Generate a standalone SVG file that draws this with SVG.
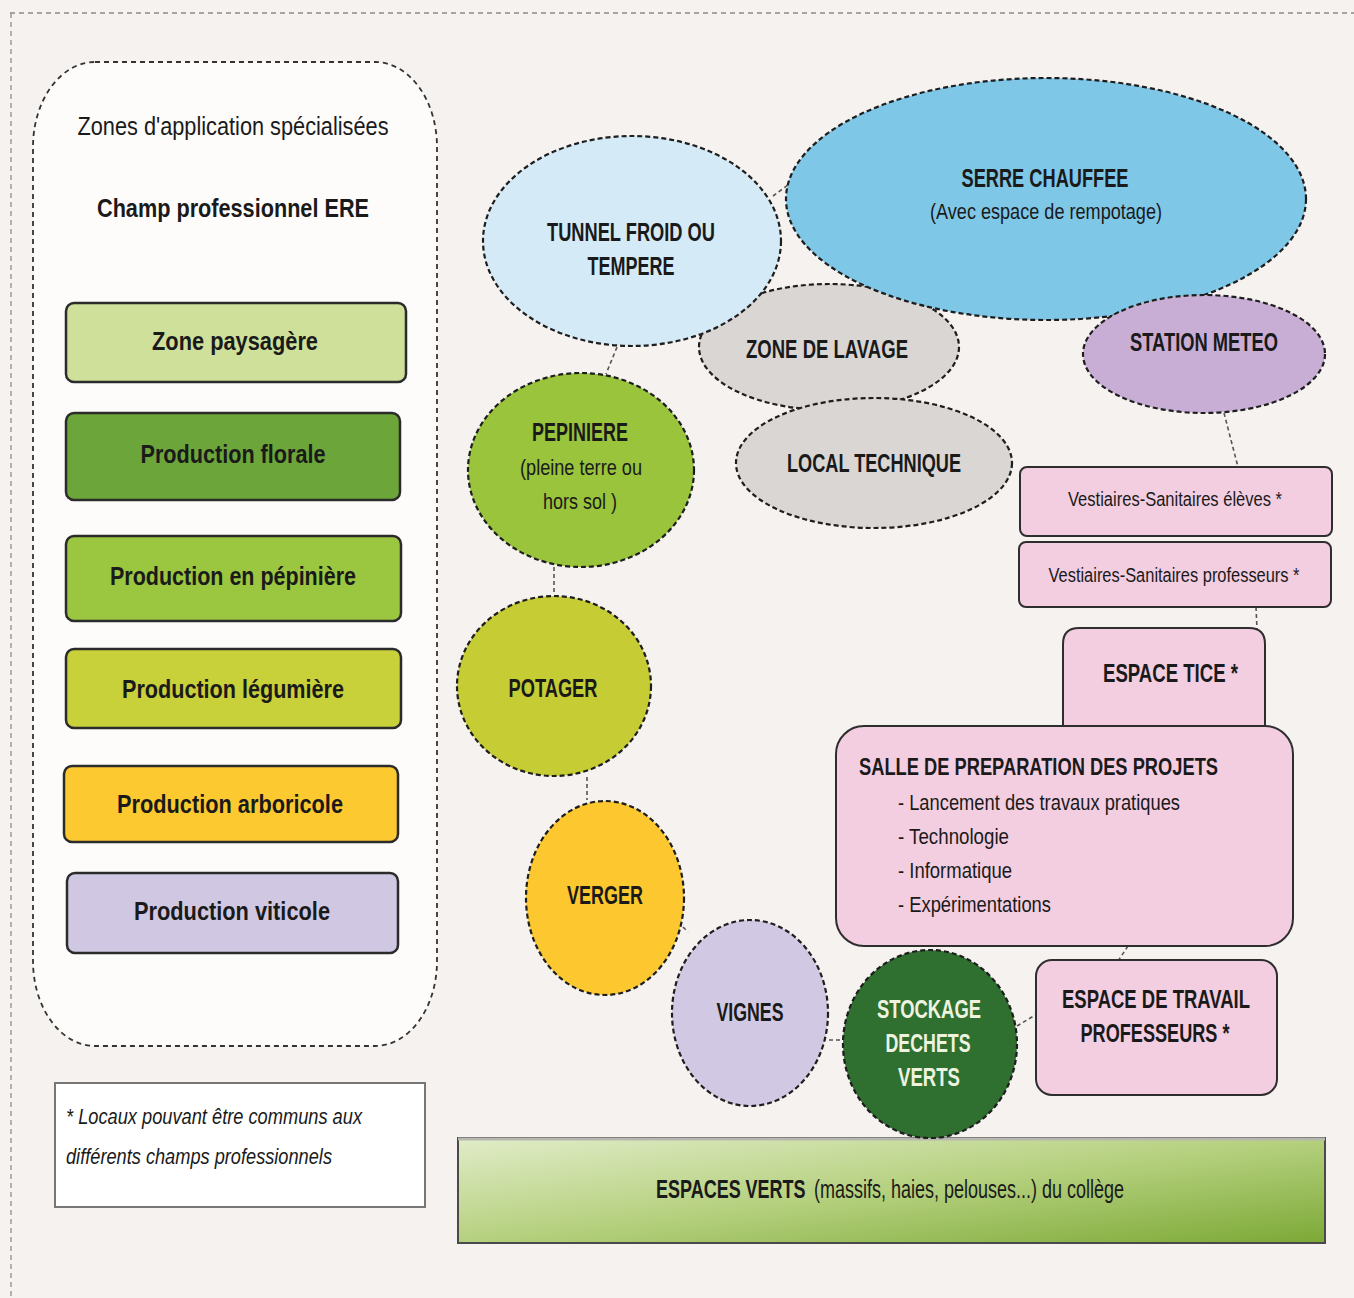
<svg xmlns="http://www.w3.org/2000/svg" width="1354" height="1298" viewBox="0 0 1354 1298">
  <defs>
    <linearGradient id="gradVerts" x1="0" y1="0" x2="1" y2="1">
      <stop offset="0" stop-color="#e1ecc8"/>
      <stop offset="0.5" stop-color="#b5d07e"/>
      <stop offset="1" stop-color="#7ca936"/>
    </linearGradient>
    <style>
      .t { font-family: "Liberation Sans Narrow", "Liberation Sans", Arial, sans-serif; fill: #1a1a1a; }
      .w { font-family: "Liberation Sans", Arial, sans-serif; fill: #1a1a1a; font-size: 25px; }
      .b { font-weight: bold; }
      .c { text-anchor: middle; }
      .big { font-size: 25px; }
      .mid { font-size: 22px; }
      .sm { font-size: 20px; }
      .light { fill: #eef3e0; }
      .leg { stroke: #2b2b2b; stroke-width: 2.5; }
      .zone { stroke: #1e1e1e; stroke-width: 2.2; stroke-dasharray: 5 3; }
      .room { fill: #f3cee1; stroke: #2e2e2e; stroke-width: 2; }
      .link { stroke: #555; stroke-width: 1.6; stroke-dasharray: 4 3; fill: none; }
    </style>
  </defs>

  <!-- page background and outer frame -->
  <rect x="0" y="0" width="1354" height="1298" fill="#f5f2ef"/>
  <line x1="10" y1="13" x2="1354" y2="13" stroke="#8a8a8a" stroke-width="1.5" stroke-dasharray="5 4"/>
  <line x1="11" y1="13" x2="11" y2="1298" stroke="#9a9a9a" stroke-width="1.5" stroke-dasharray="5 4"/>

  <!-- legend panel -->
  <g id="legende">
    <rect x="33" y="62" width="404" height="984" rx="62" ry="85" fill="#fdfcfb" stroke="#333" stroke-width="1.8" stroke-dasharray="5 4"/>
    <text class="t c big" x="233" y="135" textLength="311" lengthAdjust="spacingAndGlyphs">Zones d'application spécialisées</text>
    <text class="t b c big" x="233" y="217" textLength="272" lengthAdjust="spacingAndGlyphs">Champ professionnel ERE</text>
  </g>
  <g id="leg-paysagere">
    <rect class="leg" x="66" y="303" width="340" height="79" rx="8" fill="#cfe09b"/>
    <text class="t b c big" x="235" y="350" textLength="166" lengthAdjust="spacingAndGlyphs">Zone paysagère</text>
  </g>
  <g id="leg-florale">
    <rect class="leg" x="66" y="413" width="334" height="87" rx="8" fill="#6ca53a"/>
    <text class="t b c big" x="233" y="463" textLength="185" lengthAdjust="spacingAndGlyphs">Production florale</text>
  </g>
  <g id="leg-pepiniere">
    <rect class="leg" x="66" y="536" width="335" height="85" rx="8" fill="#9bc63f"/>
    <text class="t b c big" x="233" y="585" textLength="246" lengthAdjust="spacingAndGlyphs">Production en pépinière</text>
  </g>
  <g id="leg-legumiere">
    <rect class="leg" x="66" y="649" width="335" height="79" rx="8" fill="#c8d03a"/>
    <text class="t b c big" x="233" y="698" textLength="222" lengthAdjust="spacingAndGlyphs">Production légumière</text>
  </g>
  <g id="leg-arboricole">
    <rect class="leg" x="64" y="766" width="334" height="76" rx="8" fill="#fdc930"/>
    <text class="t b c big" x="230" y="813" textLength="226" lengthAdjust="spacingAndGlyphs">Production arboricole</text>
  </g>
  <g id="leg-viticole">
    <rect class="leg" x="67" y="873" width="331" height="80" rx="8" fill="#d0c8e2"/>
    <text class="t b c big" x="232" y="920" textLength="196" lengthAdjust="spacingAndGlyphs">Production viticole</text>
  </g>
  <g id="note">
    <rect x="55" y="1083" width="370" height="124" fill="#ffffff" stroke="#777" stroke-width="2"/>
    <text class="t mid" x="66" y="1124" font-style="italic" fill="#333" textLength="296" lengthAdjust="spacingAndGlyphs">* Locaux pouvant être communs aux</text>
    <text class="t mid" x="66" y="1164" font-style="italic" fill="#333" textLength="266" lengthAdjust="spacingAndGlyphs">différents champs professionnels</text>
  </g>

  <!-- links between zones -->
  <g id="connecteurs">
    <line class="link" x1="773" y1="196" x2="788" y2="185"/>
    <line class="link" x1="617" y1="347" x2="606" y2="374"/>
    <line class="link" x1="554" y1="567" x2="554" y2="595"/>
    <line class="link" x1="587" y1="777" x2="587" y2="800"/>
    <line class="link" x1="678" y1="922" x2="688" y2="932"/>
    <line class="link" x1="829" y1="1040" x2="844" y2="1040"/>
    <line class="link" x1="1017" y1="1026" x2="1037" y2="1014"/>
    <line class="link" x1="1128" y1="946" x2="1118" y2="961"/>
    <line class="link" x1="1224" y1="413" x2="1238" y2="467"/>
    <line class="link" x1="1256" y1="607" x2="1257" y2="629"/>
  </g>

  <!-- buildings and growing zones -->
  <g id="zone-lavage">
    <ellipse class="zone" cx="829" cy="347" rx="130" ry="63" fill="#d9d6d4"/>
    <text class="t b c big" x="827" y="358" textLength="162" lengthAdjust="spacingAndGlyphs">ZONE DE LAVAGE</text>
  </g>
  <g id="local-technique">
    <ellipse class="zone" cx="874" cy="463" rx="138" ry="65" fill="#d9d6d4"/>
    <text class="t b c big" x="874" y="472" textLength="174" lengthAdjust="spacingAndGlyphs">LOCAL TECHNIQUE</text>
  </g>
  <g id="tunnel">
    <ellipse class="zone" cx="632" cy="241" rx="149" ry="105" fill="#d4eaf7"/>
    <text class="t b c big" x="631" y="241" textLength="168" lengthAdjust="spacingAndGlyphs">TUNNEL FROID OU</text>
    <text class="t b c big" x="631" y="275" textLength="87" lengthAdjust="spacingAndGlyphs">TEMPERE</text>
  </g>
  <g id="serre">
    <ellipse class="zone" cx="1046" cy="199" rx="260" ry="121" fill="#7fc7e7"/>
    <text class="t b c big" x="1045" y="187" textLength="167" lengthAdjust="spacingAndGlyphs">SERRE CHAUFFEE</text>
    <text class="t c mid" x="1046" y="219" textLength="232" lengthAdjust="spacingAndGlyphs">(Avec espace de rempotage)</text>
  </g>
  <g id="station-meteo">
    <ellipse class="zone" cx="1204" cy="354" rx="121" ry="59" fill="#c8aed5"/>
    <text class="t b c big" x="1204" y="351" textLength="148" lengthAdjust="spacingAndGlyphs">STATION METEO</text>
  </g>
  <g id="pepiniere">
    <ellipse class="zone" cx="581" cy="470" rx="113" ry="97" fill="#99c43c"/>
    <text class="t b c big" x="580" y="441" textLength="96" lengthAdjust="spacingAndGlyphs">PEPINIERE</text>
    <text class="t c mid" x="581" y="475" textLength="122" lengthAdjust="spacingAndGlyphs">(pleine terre ou</text>
    <text class="t c mid" x="580" y="509" textLength="74" lengthAdjust="spacingAndGlyphs">hors sol )</text>
  </g>
  <g id="potager">
    <ellipse class="zone" cx="554" cy="686" rx="97" ry="90" fill="#c6cc34"/>
    <text class="t b c big" x="553" y="697" textLength="89" lengthAdjust="spacingAndGlyphs">POTAGER</text>
  </g>
  <g id="verger">
    <ellipse class="zone" cx="605" cy="898" rx="79" ry="97" fill="#fdc82f"/>
    <text class="t b c big" x="605" y="904" textLength="76" lengthAdjust="spacingAndGlyphs">VERGER</text>
  </g>
  <g id="vignes">
    <ellipse class="zone" cx="750" cy="1013" rx="78" ry="93" fill="#d1c9e3"/>
    <text class="t b c big" x="750" y="1021" textLength="67" lengthAdjust="spacingAndGlyphs">VIGNES</text>
  </g>
  <g id="espaces-verts">
    <rect x="458" y="1138" width="867" height="105" fill="url(#gradVerts)" stroke="#4a4a4a" stroke-width="2"/>
    <line x1="458" y1="1139" x2="1325" y2="1139" stroke="#b7b7b0" stroke-width="3"/>
    <text class="w b" transform="translate(656 1198) scale(0.72 1)">ESPACES VERTS</text>
    <text class="w" transform="translate(814 1198) scale(0.72 1)">(massifs, haies, pelouses...) du collège</text>
  </g>
  <g id="stockage">
    <ellipse class="zone" cx="930" cy="1044" rx="87" ry="94" fill="#2f6f30"/>
    <text class="t b c big light" x="929" y="1018" textLength="104" lengthAdjust="spacingAndGlyphs">STOCKAGE</text>
    <text class="t b c big light" x="928" y="1052" textLength="85" lengthAdjust="spacingAndGlyphs">DECHETS</text>
    <text class="t b c big light" x="929" y="1086" textLength="62" lengthAdjust="spacingAndGlyphs">VERTS</text>
  </g>

  <!-- rooms -->
  <g id="vestiaires-eleves">
    <rect class="room" x="1020" y="467" width="312" height="69" rx="7"/>
    <text class="t c sm" x="1175" y="506" textLength="214" lengthAdjust="spacingAndGlyphs">Vestiaires-Sanitaires élèves *</text>
  </g>
  <g id="vestiaires-professeurs">
    <rect class="room" x="1019" y="542" width="312" height="65" rx="7"/>
    <text class="t c sm" x="1174" y="582" textLength="251" lengthAdjust="spacingAndGlyphs">Vestiaires-Sanitaires professeurs *</text>
  </g>
  <g id="espace-tice">
    <path class="room" d="M1063 745 V644 Q1063 628 1079 628 H1249 Q1265 628 1265 644 V745"/>
    <text class="t b big" x="1103" y="682" textLength="135" lengthAdjust="spacingAndGlyphs">ESPACE TICE *</text>
  </g>
  <g id="salle-preparation">
    <rect class="room" x="836" y="726" width="457" height="220" rx="28"/>
    <text class="t b" font-size="24" x="859" y="775" textLength="359" lengthAdjust="spacingAndGlyphs">SALLE DE PREPARATION DES PROJETS</text>
    <text class="t mid" x="898" y="810" textLength="282" lengthAdjust="spacingAndGlyphs">- Lancement des travaux pratiques</text>
    <text class="t mid" x="898" y="844" textLength="111" lengthAdjust="spacingAndGlyphs">- Technologie</text>
    <text class="t mid" x="898" y="878" textLength="114" lengthAdjust="spacingAndGlyphs">- Informatique</text>
    <text class="t mid" x="898" y="912" textLength="153" lengthAdjust="spacingAndGlyphs">- Expérimentations</text>
  </g>
  <g id="espace-travail">
    <rect class="room" x="1036" y="960" width="241" height="135" rx="16"/>
    <text class="t b c big" x="1156" y="1008" textLength="188" lengthAdjust="spacingAndGlyphs">ESPACE DE TRAVAIL</text>
    <text class="t b c big" x="1155" y="1042" textLength="149" lengthAdjust="spacingAndGlyphs">PROFESSEURS *</text>
  </g>
</svg>
